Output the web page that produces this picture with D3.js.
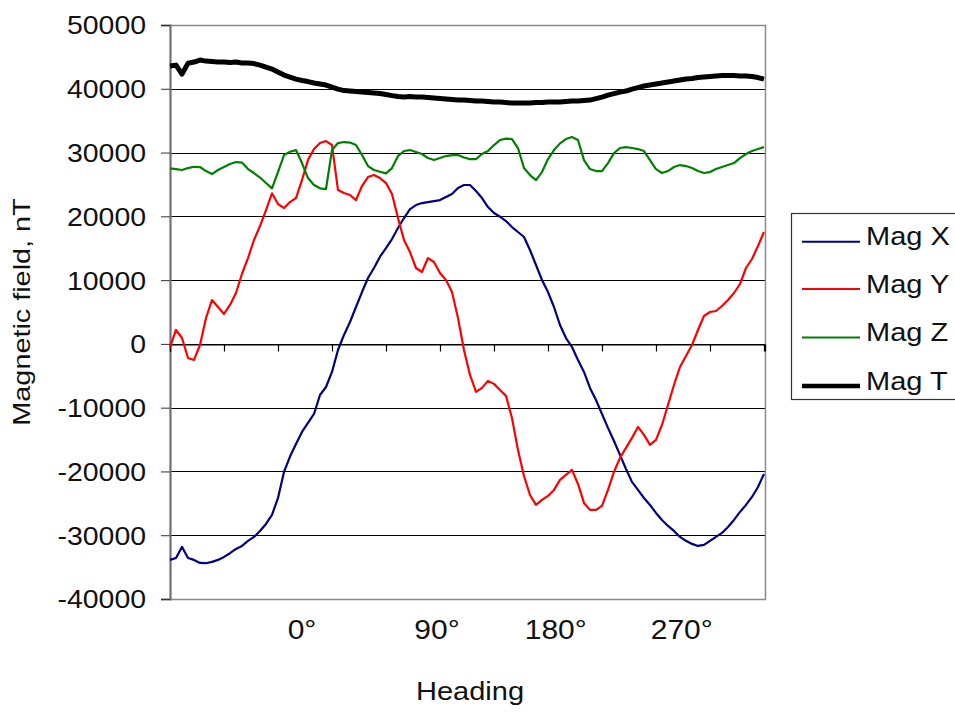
<!DOCTYPE html>
<html><head><meta charset="utf-8">
<script src="https://cdn.jsdelivr.net/npm/d3@7"></script>
<style>html,body{margin:0;padding:0;background:#fff;} svg{display:block;}</style>
</head><body>
<svg id="chart" width="955" height="713"></svg>
<script>
// ---------- data ----------
const seriesNames = ["Mag X", "Mag Y", "Mag Z", "Mag T"];
const seriesColors = ["#000080", "#ff0000", "#008000", "#000000"];
const yTicks = [50000, 40000, 30000, 20000, 10000, 0, -10000, -20000, -30000, -40000];
const headingLabels = ["0°", "90°", "180°", "270°"];
const headingSamples = [22, 44.5, 64.3, 85.3];   // sample index where each heading label sits
const tickSamples = [0, 9, 18, 27, 36, 45, 54, 63, 72, 81, 90, 99];

const magX = [-33870,-33560,-31830,-33560,-33870,-34340,-34390,-34180,-33870,-33400,
 -32820,-32150,-31680,-30880,-30270,-29330,-28230,-26820,-24160,-20080,
 -17670,-15690,-13810,-12400,-10990,-8010,-6760,-4400,-960,1400,
 3430,5780,8130,10330,11900,13670,15030,16440,18170,19730,
 21140,21770,22080,22240,22390,22550,23020,23490,24430,24910,
 24910,23970,22870,21460,20520,19940,19260,18320,17540,16760,
 14720,12370,10020,8130,5780,2960,920,-490,-2520,-4400,
 -6910,-8790,-10990,-13170,-15220,-17410,-19610,-21640,-22900,-24160,
 -25250,-26510,-27600,-28540,-29330,-30270,-30880,-31360,-31680,-31520,
 -30880,-30270,-29640,-28700,-27600,-26350,-25250,-24000,-22430,-20390];

const magY = [-490,2180,920,-2210,-2520,-170,4060,6880,5780,4690,
 6100,7980,11000,13460,16290,18480,20990,23610,21930,21300,
 22240,22870,25690,28820,30550,31490,31800,31180,24120,23650,
 23340,22550,24750,26160,26470,26000,25220,23490,19730,16290,
 14400,11900,11270,13460,12840,11110,10020,8130,4060,-960,
 -4870,-7520,-6900,-5800,-6270,-7230,-8150,-11610,-16630,-20710,
 -23690,-25250,-24470,-23840,-22900,-21330,-20550,-19760,-21960,-24940,
 -26030,-26030,-25400,-22900,-20080,-17880,-16310,-14740,-13020,-14270,
 -15840,-15060,-12710,-9580,-6440,-3620,-1900,-170,2180,4370,
 5000,5160,5940,6880,7980,9390,11900,13310,15340,17540];

const magZ = [27520,27400,27260,27570,27770,27730,27100,26630,27260,27730,
 28200,28510,28430,27410,26790,26080,25220,24390,26940,29610,
 30130,30390,28350,26000,24910,24390,24280,30390,31490,31650,
 31570,31180,29610,27880,27260,26990,26740,27570,29450,30240,
 30390,30080,29770,29140,28820,29140,29450,29610,29610,29220,
 28980,28980,29770,30240,31180,31960,32190,32120,30710,27570,
 26470,25690,26940,28980,30390,31440,32120,32430,31960,28820,
 27410,27100,27100,28350,29920,30710,30860,30710,30550,30240,
 28820,27410,26790,27100,27730,28040,27880,27570,27100,26790,
 26940,27410,27730,28040,28350,29140,29770,30240,30550,30860];

const magT = [43560,43710,42300,44000,44190,44500,44340,44260,44190,44190,
 44110,44190,44030,44030,43950,43710,43400,43090,42620,42150,
 41840,41520,41290,41130,40900,40740,40580,40270,39950,39720,
 39640,39560,39480,39400,39330,39250,39090,38930,38780,38700,
 38780,38700,38700,38620,38540,38460,38390,38310,38230,38230,
 38150,38070,38070,37990,37920,37920,37840,37760,37760,37760,
 37760,37840,37840,37920,37920,37920,37990,38070,38070,38150,
 38230,38460,38700,39010,39250,39480,39640,39950,40190,40430,
 40580,40740,40900,41050,41210,41370,41520,41600,41760,41840,
 41920,41990,42070,42070,42070,41990,41990,41920,41760,41520];

const seriesValues = [magX, magY, magZ, magT];
const seriesWidths = [2.2, 2.2, 2.2, 5];

// ---------- layout ----------
const svg = d3.select("#chart");
const plot = {left: 170, top: 25, right: 765, bottom: 599};
const FONT = "'Liberation Sans', Arial, Helvetica, sans-serif";

const x = d3.scaleLinear().domain([0, 99.17]).range([plot.left, plot.right]);
const y = d3.scaleLinear().domain([-40000, 50000]).range([plot.bottom, plot.top]);

function stretch(sel, sx) {
  sel.each(function () {
    const w = this.getComputedTextLength();
    this.setAttribute("textLength", w * sx);
    this.setAttribute("lengthAdjust", "spacingAndGlyphs");
  });
}

// gridlines
svg.append("g").selectAll("line")
  .data(yTicks.filter(v => v !== 50000 && v !== -40000))
  .join("line")
  .attr("x1", plot.left).attr("x2", plot.right)
  .attr("y1", d => Math.round(y(d)) + 0.5).attr("y2", d => Math.round(y(d)) + 0.5)
  .attr("stroke", "#000").attr("stroke-width", 1.2);

// plot frame
svg.append("rect")
  .attr("x", plot.left + 0.5).attr("y", plot.top + 0.5)
  .attr("width", plot.right - plot.left).attr("height", plot.bottom - plot.top)
  .attr("fill", "none").attr("stroke", "#8a8a8a").attr("stroke-width", 1.5);

// y axis (ticks outward + labels)
const yAxis = d3.axisLeft(y).tickValues(yTicks).tickSize(9).tickPadding(15).tickFormat(d3.format("d"));
const yg = svg.append("g").attr("transform", `translate(${plot.left},0)`).call(yAxis);
yg.select(".domain").attr("stroke", "#707070").attr("stroke-width", 2);
yg.selectAll(".tick line").attr("stroke", "#333");
yg.selectAll(".tick text")
  .attr("font-family", FONT).attr("font-size", 25.5).attr("fill", "#111")
  .attr("dy", "0.35em")
  .text(d => d < 0 ? "-" + Math.abs(d) : String(d))
  .call(stretch, 1.115);

// x axis at zero with downward ticks
const xAxis = d3.axisBottom(x).tickValues(tickSamples).tickSize(7).tickFormat("");
const xg = svg.append("g").attr("transform", `translate(0,${Math.round(y(0)) + 0.5})`).call(xAxis);
xg.select(".domain").attr("stroke", "#000").attr("stroke-width", 1.2);
xg.selectAll(".tick line").attr("stroke", "#000").attr("stroke-width", 1.2);

// heading labels
svg.append("g").selectAll("text")
  .data(headingLabels)
  .join("text")
  .attr("x", (d, i) => x(headingSamples[i]))
  .attr("y", 639)
  .attr("text-anchor", "middle")
  .attr("font-family", FONT).attr("font-size", 27).attr("fill", "#111")
  .text(d => d)
  .call(stretch, 1.11);

// series
const line = d3.line().x((d, i) => x(i)).y(d => y(d)).curve(d3.curveLinear);
svg.append("g").selectAll("path")
  .data(seriesValues)
  .join("path")
  .attr("d", d => line(d))
  .attr("fill", "none")
  .attr("stroke", (d, i) => seriesColors[i])
  .attr("stroke-width", (d, i) => seriesWidths[i])
  .attr("stroke-linejoin", "round");

// axis titles
svg.append("text")
  .attr("x", 470).attr("y", 700)
  .attr("text-anchor", "middle")
  .attr("font-family", FONT).attr("font-size", 26).attr("fill", "#111")
  .text("Heading")
  .call(stretch, 1.116);

svg.append("text")
  .attr("transform", "translate(30,312) rotate(-90)")
  .attr("text-anchor", "middle")
  .attr("font-family", FONT).attr("font-size", 24).attr("fill", "#111")
  .text("Magnetic field, nT")
  .call(stretch, 1.2);

// legend
const legend = svg.append("g");
legend.append("rect")
  .attr("x", 791.5).attr("y", 213.5).attr("width", 175).attr("height", 186)
  .attr("fill", "#fff").attr("stroke", "#333").attr("stroke-width", 1.2);
const legendY = [241.7, 289, 337.5, 386];
const items = legend.selectAll("g.item").data(seriesNames).join("g").attr("class", "item");
items.append("line")
  .attr("x1", 802).attr("x2", 860)
  .attr("y1", (d, i) => legendY[i]).attr("y2", (d, i) => legendY[i])
  .attr("stroke", (d, i) => seriesColors[i])
  .attr("stroke-width", (d, i) => i === 3 ? 4.5 : 2);
items.append("text")
  .attr("x", 866).attr("y", (d, i) => legendY[i] + 3.5)
  .attr("font-family", FONT).attr("font-size", 25).attr("fill", "#111")
  .text(d => d)
  .call(stretch, 1.16);
</script>
</body></html>
